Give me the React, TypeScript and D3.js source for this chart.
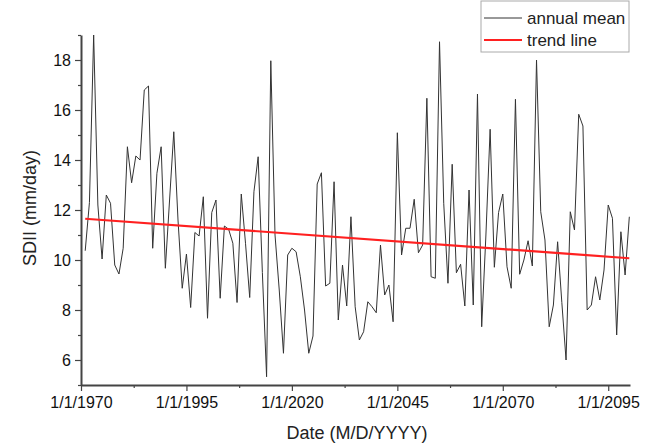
import * as d3 from 'd3';
import React, { useEffect, useRef } from 'react';

const W = 650;
const H = 446;

// annual SDII values, one per year from 1971 to 2100
const years = d3.range(1971, 2101);
const annualMean = [
    10.37, 12.3, 19.0, 12.2, 10.04, 12.6, 12.27, 9.8, 9.44, 10.47,
    14.53, 13.09, 14.16, 14.0, 16.8, 16.96, 10.47, 13.47, 14.53, 9.67,
    12.4, 15.13, 11.6, 8.87, 10.24, 8.1, 11.1, 10.96, 12.53, 7.67,
    11.9, 12.4, 8.47, 11.36, 11.23, 10.67, 8.3, 12.64, 10.67, 8.5,
    12.73, 14.13, 9.5, 5.33, 17.97, 11.0, 8.8, 6.27, 10.2, 10.47,
    10.33, 9.33, 8.0, 6.27, 6.96, 13.04, 13.49, 8.96, 9.07, 13.13,
    7.6, 9.8, 8.16, 11.73, 8.13, 6.8, 7.13, 8.33, 8.13, 7.89,
    10.6, 8.6, 9.0, 7.53, 15.09, 10.2, 11.27, 11.27, 12.43, 10.29,
    10.6, 16.47, 9.33, 9.27, 18.73, 12.27, 9.07, 13.83, 9.49, 9.83,
    8.16, 12.8, 8.2, 16.64, 7.33, 11.0, 15.23, 9.71, 11.9, 12.64,
    9.73, 8.87, 16.43, 9.43, 10.0, 10.77, 9.76, 18.0, 11.93, 10.8,
    7.33, 8.2, 10.73, 8.3, 6.0, 11.93, 11.2, 15.83, 15.36, 8.0,
    8.2, 9.33, 8.4, 9.6, 12.2, 11.67, 7.0, 11.13, 9.4, 11.73,
];

// trend line end points (first and last year)
const trendYears = [1971, 2100];
const trendValues = [11.65, 10.07];

const xTickYears = [1970, 1995, 2020, 2045, 2070, 2095];
const xMinorYears = [1982.5, 2007.5, 2032.5, 2057.5, 2082.5];
const yTicks = [6, 8, 10, 12, 14, 16, 18];
const yMinorTicks = [5, 7, 9, 11, 13, 15, 17, 19];

const legendLabels = ['annual mean', 'trend line'];
const legendColors = ['#333333', '#ff2020'];

const FONT = '"Liberation Sans", Arial, sans-serif';

const toDate = (y: number) => {
    const whole = Math.floor(y);
    return new Date(whole, Math.round((y - whole) * 12), 1);
};

const App = () => {
    const ref = useRef<SVGSVGElement>(null);

    useEffect(() => {
        const svg = d3.select(ref.current);
        svg.selectAll('*').remove();

        const x = d3.scaleTime()
            .domain([new Date(1970, 0, 1), new Date(2100, 2, 1)])
            .range([81, 630]);
        const y = d3.scaleLinear().domain([5, 19]).range([385, 35]);

        const axisColor = '#444';

        // x axis
        const xMinor = svg.append('g').attr('transform', 'translate(0,385)')
            .call(d3.axisBottom(x).tickValues(xMinorYears.map(toDate)).tickSize(3).tickSizeOuter(0).tickFormat(() => ''));
        xMinor.select('.domain').remove();
        const xAxis = svg.append('g').attr('transform', 'translate(0,385)')
            .call(d3.axisBottom(x)
                .tickValues(xTickYears.map(toDate))
                .tickSize(6)
                .tickSizeOuter(0)
                .tickPadding(6)
                .tickFormat((d) => d3.timeFormat('%-m/%-d/%Y')(d as Date)));
        [xAxis, xMinor].forEach((g) => {
            g.selectAll('line').attr('stroke', axisColor).attr('stroke-width', 1.2);
        });
        xAxis.select('.domain').attr('stroke', axisColor).attr('stroke-width', 2);
        xAxis.selectAll('text').attr('font-family', FONT).attr('font-size', 16).attr('fill', '#111');

        // y axis
        const yMinor = svg.append('g').attr('transform', 'translate(81,0)')
            .call(d3.axisLeft(y).tickValues(yMinorTicks).tickSize(3).tickSizeOuter(0).tickFormat(() => ''));
        yMinor.select('.domain').remove();
        const yAxis = svg.append('g').attr('transform', 'translate(81,0)')
            .call(d3.axisLeft(y).tickValues(yTicks).tickSize(6).tickSizeOuter(0).tickPadding(4));
        [yAxis, yMinor].forEach((g) => {
            g.selectAll('line').attr('stroke', axisColor).attr('stroke-width', 1.2);
        });
        yAxis.select('.domain').attr('stroke', axisColor).attr('stroke-width', 2);
        yAxis.selectAll('text').attr('font-family', FONT).attr('font-size', 16).attr('fill', '#111');

        // titles
        svg.append('text')
            .attr('x', 357).attr('y', 439)
            .attr('text-anchor', 'middle')
            .attr('font-family', FONT).attr('font-size', 18).attr('fill', '#222')
            .text('Date (M/D/YYYY)');
        svg.append('text')
            .attr('transform', 'translate(36,208) rotate(-90)')
            .attr('text-anchor', 'middle')
            .attr('font-family', FONT).attr('font-size', 18).attr('fill', '#222')
            .text('SDII (mm/day)');

        // annual mean line
        const line = d3.line<number>()
            .x((d, i) => x(toDate(years[i])))
            .y((d) => y(d));
        svg.append('path')
            .datum(annualMean)
            .attr('d', line)
            .attr('fill', 'none')
            .attr('stroke', legendColors[0])
            .attr('stroke-width', 1);

        // trend line
        const trendLine = d3.line<number>()
            .x((d, i) => x(toDate(trendYears[i])))
            .y((d) => y(d));
        svg.append('path')
            .datum(trendValues)
            .attr('d', trendLine)
            .attr('fill', 'none')
            .attr('stroke', legendColors[1])
            .attr('stroke-width', 2.2);

        // legend
        const legend = svg.append('g');
        legend.append('rect')
            .attr('x', 481).attr('y', 1)
            .attr('width', 148).attr('height', 51)
            .attr('fill', 'white')
            .attr('stroke', '#aaa');
        legendLabels.forEach((label, i) => {
            const ly = 18 + i * 22;
            legend.append('line')
                .attr('x1', 484).attr('x2', 522)
                .attr('y1', ly).attr('y2', ly)
                .attr('stroke', legendColors[i])
                .attr('stroke-width', i === 0 ? 1 : 2.2);
            legend.append('text')
                .attr('x', 527).attr('y', ly + 6)
                .attr('font-family', FONT).attr('font-size', 17).attr('fill', '#222')
                .text(label);
        });
    }, []);

    return (
        <svg
            ref={ref}
            width={W}
            height={H}
            style={{ position: 'absolute', left: 0, top: 0, background: 'white' }}
        />
    );
};

export default App;
